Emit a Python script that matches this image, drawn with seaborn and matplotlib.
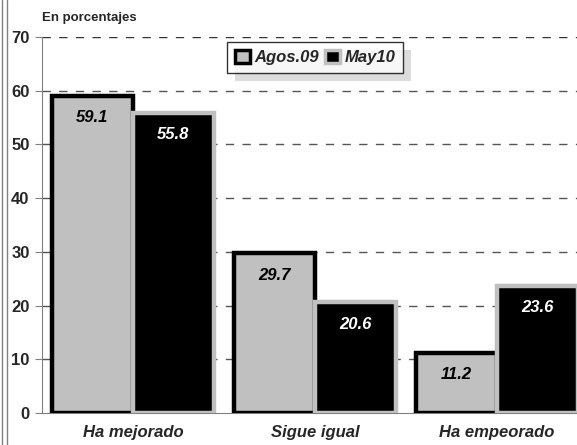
import matplotlib
matplotlib.use("Agg")
import matplotlib.pyplot as plt
from matplotlib.patches import Patch, Rectangle
from matplotlib.lines import Line2D
import seaborn as sns
import pandas as pd

categories = ["Ha mejorado", "Sigue igual", "Ha empeorado"]
series = ["Agos.09", "May10"]
agos09 = [59.1, 29.7, 11.2]
may10 = [55.8, 20.6, 23.6]

df = pd.DataFrame({
    "categoria": categories * 2,
    "serie": [series[0]] * 3 + [series[1]] * 3,
    "valor": agos09 + may10,
})

sns.set_style("white")
plt.rcParams["font.family"] = ["Liberation Sans", "DejaVu Sans"]

fig = plt.figure(figsize=(5.77, 4.45), dpi=100)
ax = fig.add_axes([42 / 577, 32 / 445, 546 / 577, 376 / 445])

colors = {"Agos.09": "#c0c0c0", "May10": "#000000"}
sns.barplot(data=df, x="categoria", y="valor", hue="serie", palette=colors,
            width=0.89, gap=0, legend=False, ax=ax, zorder=3)

edge = {"Agos.09": "#000000", "May10": "#c0c0c0"}
for cont, s in zip(ax.containers, series):
    for p in cont:
        p.set_edgecolor(edge[s])
        p.set_linewidth(3.2)
    ax.bar_label(cont, fmt="%.1f", padding=-21, fontsize=12, fontweight="bold",
                 fontstyle="italic", color="black" if s == "Agos.09" else "white")

ax.set_ylim(0, 70)
ax.set_xlim(-0.5, 2.5)
ax.set_yticks(range(0, 71, 10))
ax.set_xlabel("")
ax.set_ylabel("")
for y in range(10, 71, 10):
    ax.axhline(y, color="#555555" if y < 70 else "#333333", lw=1,
               ls=(0, (6, 6)), zorder=1)

for s in ["top", "right"]:
    ax.spines[s].set_visible(False)
ax.spines["left"].set_color("#808080")
ax.spines["bottom"].set_color("#808080")
ax.tick_params(axis="y", length=5, color="#808080", direction="out",
               labelsize=12, pad=4, left=True)
ax.tick_params(axis="x", length=0, labelsize=12, pad=9)
for t in ax.get_yticklabels():
    t.set_fontweight("bold")
for t in ax.get_xticklabels():
    t.set_fontweight("bold")
    t.set_fontstyle("italic")

handles = [Patch(facecolor="#c0c0c0", edgecolor="black", lw=2.5),
           Patch(facecolor="black", edgecolor="#c0c0c0", lw=2.5)]
leg = ax.legend(handles, series, loc="upper center", bbox_to_anchor=(0.5, 1.0),
                ncol=2, frameon=True, fancybox=False, handlelength=0.9,
                handleheight=0.9, handletextpad=0.25, columnspacing=0.4,
                borderpad=0.45, borderaxespad=0.3,
                prop={"weight": "bold", "style": "italic", "size": 12})
leg.get_frame().set_edgecolor("black")
leg.get_frame().set_linewidth(1)

# legend shadow
fig.canvas.draw()
bb = leg.get_window_extent().transformed(ax.transAxes.inverted())
dx = 8 / (546)
dy = 8 / (376)
ax.add_patch(Rectangle((bb.x0 + dx, bb.y0 - dy), bb.width, bb.height,
                       transform=ax.transAxes, facecolor="#dcdcdc",
                       edgecolor="none", zorder=4.5, clip_on=False))

fig.text(42 / 577, 1 - 18 / 445, "En porcentajes", fontsize=9.5, fontweight="bold",
         va="center", ha="left")

fig.add_artist(Line2D([1.5 / 577, 1.5 / 577], [0, 1], color="#808080", lw=1))
fig.add_artist(Line2D([6.5 / 577, 6.5 / 577], [0, 1], color="#808080", lw=1))

fig.savefig("out.png", dpi=100)
